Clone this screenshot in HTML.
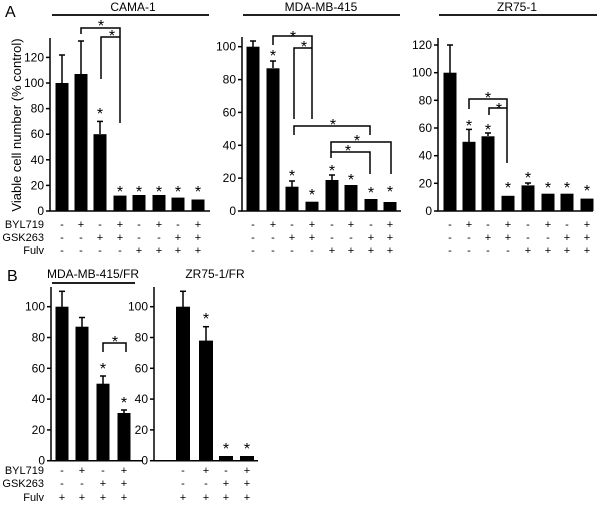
<!DOCTYPE html>
<html><head><meta charset="utf-8"><style>
body{margin:0;background:#fff}
svg{display:block;font-family:"Liberation Sans",Arial,sans-serif}
.t{font-size:12px;text-anchor:end}
.s{font-size:11px;text-anchor:middle}
.st{font-size:16px;text-anchor:middle;transform:translateY(3px)}
</style></head><body>
<svg width="600" height="507" viewBox="0 0 600 507" xmlns="http://www.w3.org/2000/svg">
<g fill="#000" stroke="none">
<text x="5" y="17" font-size="16">A</text>
<text x="7" y="281" font-size="16">B</text>
<text x="133" y="11" font-size="12" text-anchor="middle">CAMA-1</text>
<text x="321" y="11" font-size="12" text-anchor="middle">MDA-MB-415</text>
<text x="517" y="11" font-size="12" text-anchor="middle">ZR75-1</text>
<text x="93" y="278" font-size="12" text-anchor="middle">MDA-MB-415/FR</text>
<text x="215" y="278" font-size="12" text-anchor="middle">ZR75-1/FR</text>
<text transform="translate(21,125) rotate(-90)" font-size="13" text-anchor="middle">Viable cell number (% control)</text>
</g>
<g stroke="#000" stroke-width="1.8" fill="none">
<line x1="52" y1="15" x2="209" y2="15"/>
<line x1="243" y1="15" x2="400" y2="15"/>
<line x1="439" y1="15" x2="597" y2="15"/>
<line x1="52" y1="283" x2="135" y2="283"/>
</g>

<!-- CAMA-1 -->
<g stroke="#000" stroke-width="1.5" fill="none">
<polyline points="50,38 50,211 210,211"/>
<line x1="46" y1="211" x2="50" y2="211"/><line x1="46" y1="185.4" x2="50" y2="185.4"/><line x1="46" y1="159.8" x2="50" y2="159.8"/><line x1="46" y1="134.2" x2="50" y2="134.2"/><line x1="46" y1="108.6" x2="50" y2="108.6"/><line x1="46" y1="83" x2="50" y2="83"/><line x1="46" y1="57.4" x2="50" y2="57.4"/>
<line x1="62" y1="83" x2="62" y2="55"/><line x1="59" y1="55" x2="65" y2="55"/>
<line x1="81" y1="74" x2="81" y2="41"/><line x1="78" y1="41" x2="84" y2="41"/>
<line x1="100" y1="134" x2="100" y2="121.4"/><line x1="97" y1="121.4" x2="103" y2="121.4"/>
<polyline points="81,34 81,28 120,28 120,123"/>
<polyline points="101,79 101,37 120,37"/>
</g>
<g fill="#000">
<rect x="55.5" y="83" width="13" height="128"/><rect x="74.5" y="74" width="13" height="137"/><rect x="93.5" y="134.2" width="13" height="76.8"/><rect x="113.5" y="195.6" width="13" height="15.4"/><rect x="132.5" y="195" width="13" height="16"/><rect x="152.5" y="195" width="13" height="16"/><rect x="171.5" y="197.6" width="13" height="13.4"/><rect x="191.5" y="199.5" width="13" height="11.5"/>
<text class="t" x="44" y="215">0</text><text class="t" x="44" y="189.4">20</text><text class="t" x="44" y="163.8">40</text><text class="t" x="44" y="138.2">60</text><text class="t" x="44" y="112.6">80</text><text class="t" x="44" y="87">100</text><text class="t" x="44" y="61.4">120</text>
<text class="st" x="100" y="116">*</text><text class="st" x="120" y="194">*</text><text class="st" x="139" y="194">*</text><text class="st" x="159" y="194">*</text><text class="st" x="178" y="194">*</text><text class="st" x="198" y="194">*</text>
<text class="st" x="101" y="28">*</text><text class="st" x="112" y="38">*</text>
</g>

<!-- MDA-MB-415 -->
<g stroke="#000" stroke-width="1.5" fill="none">
<polyline points="242,37 242,211 401,211"/>
<line x1="238" y1="211" x2="242" y2="211"/><line x1="238" y1="178.1" x2="242" y2="178.1"/><line x1="238" y1="145.3" x2="242" y2="145.3"/><line x1="238" y1="112.4" x2="242" y2="112.4"/><line x1="238" y1="79.6" x2="242" y2="79.6"/><line x1="238" y1="46.7" x2="242" y2="46.7"/>
<line x1="253" y1="47" x2="253" y2="41"/><line x1="250" y1="41" x2="256" y2="41"/>
<line x1="273" y1="68" x2="273" y2="61"/><line x1="270" y1="61" x2="276" y2="61"/>
<line x1="292" y1="187" x2="292" y2="181"/><line x1="289" y1="181" x2="295" y2="181"/>
<line x1="332" y1="180" x2="332" y2="175"/><line x1="329" y1="175" x2="335" y2="175"/>
<polyline points="273,45 273,36 312,36 312,119"/>
<polyline points="294,119 294,48 312,48"/>
<polyline points="294,135 294,126 370,126 370,135"/>
<polyline points="331,158 331,142 391,142 391,174"/>
<polyline points="331,152 370,152 370,174"/>
</g>
<g fill="#000">
<rect x="246.5" y="46.7" width="13" height="164.3"/><rect x="266.5" y="68.3" width="13" height="142.7"/><rect x="285.5" y="186.7" width="13" height="24.3"/><rect x="305.5" y="201.7" width="13" height="9.3"/><rect x="325.5" y="180" width="13" height="31"/><rect x="344.5" y="185" width="13" height="26"/><rect x="364.5" y="199" width="13" height="12"/><rect x="383.5" y="202" width="13" height="9"/>
<text class="t" x="236" y="215">0</text><text class="t" x="236" y="182.1">20</text><text class="t" x="236" y="149.3">40</text><text class="t" x="236" y="116.4">60</text><text class="t" x="236" y="83.6">80</text><text class="t" x="236" y="50.7">100</text>
<text class="st" x="273" y="58">*</text><text class="st" x="292" y="178">*</text><text class="st" x="312" y="197">*</text><text class="st" x="332" y="173">*</text><text class="st" x="351" y="182">*</text><text class="st" x="371" y="195">*</text><text class="st" x="390" y="194">*</text>
<text class="st" x="293" y="39">*</text><text class="st" x="304" y="49">*</text><text class="st" x="333" y="127">*</text><text class="st" x="357" y="143">*</text><text class="st" x="348" y="153">*</text>
</g>

<!-- ZR75-1 -->
<g stroke="#000" stroke-width="1.5" fill="none">
<polyline points="438,38 438,211 593,211"/>
<line x1="434" y1="211" x2="438" y2="211"/><line x1="434" y1="183.3" x2="438" y2="183.3"/><line x1="434" y1="155.7" x2="438" y2="155.7"/><line x1="434" y1="128" x2="438" y2="128"/><line x1="434" y1="100.3" x2="438" y2="100.3"/><line x1="434" y1="72.7" x2="438" y2="72.7"/><line x1="434" y1="45" x2="438" y2="45"/>
<line x1="450" y1="73" x2="450" y2="45"/><line x1="447" y1="45" x2="453" y2="45"/>
<line x1="469" y1="142" x2="469" y2="129.4"/><line x1="466" y1="129.4" x2="472" y2="129.4"/>
<line x1="488" y1="136" x2="488" y2="133"/><line x1="485" y1="133" x2="491" y2="133"/>
<line x1="528" y1="185" x2="528" y2="183"/><line x1="525" y1="183" x2="531" y2="183"/>
<polyline points="469,109 469,99 507,99 507,163"/>
<polyline points="489,115 489,108 507,108"/>
</g>
<g fill="#000">
<rect x="443.5" y="72.7" width="13" height="138.3"/><rect x="462.5" y="141.8" width="13" height="69.2"/><rect x="481.5" y="136.3" width="13" height="74.7"/><rect x="501.5" y="195.8" width="13" height="15.2"/><rect x="521.5" y="185.4" width="13" height="25.6"/><rect x="541.5" y="193.7" width="13" height="17.3"/><rect x="560.5" y="193.7" width="13" height="17.3"/><rect x="580.5" y="198.6" width="13" height="12.4"/>
<text class="t" x="432" y="215">0</text><text class="t" x="432" y="187.3">20</text><text class="t" x="432" y="159.7">40</text><text class="t" x="432" y="132">60</text><text class="t" x="432" y="104.3">80</text><text class="t" x="432" y="76.7">100</text><text class="t" x="432" y="49">120</text>
<text class="st" x="469" y="128">*</text><text class="st" x="488" y="132">*</text><text class="st" x="508" y="190">*</text><text class="st" x="528" y="180">*</text><text class="st" x="548" y="190">*</text><text class="st" x="567" y="190">*</text><text class="st" x="587" y="193">*</text>
<text class="st" x="488" y="100">*</text><text class="st" x="499" y="111">*</text>
</g>

<!-- row labels -->
<g fill="#000" font-size="11">
<text x="44" y="228" text-anchor="end">BYL719</text><text x="44" y="241" text-anchor="end">GSK263</text><text x="44" y="254" text-anchor="end">Fulv</text>
<text x="44" y="474" text-anchor="end">BYL719</text><text x="44" y="487" text-anchor="end">GSK263</text><text x="44" y="501" text-anchor="end">Fulv</text>
</g>
<g fill="#000">
<text class="s" x="62" y="228">-</text><text class="s" x="81" y="228">+</text><text class="s" x="100" y="228">-</text><text class="s" x="120" y="228">+</text><text class="s" x="139" y="228">-</text><text class="s" x="159" y="228">+</text><text class="s" x="178" y="228">-</text><text class="s" x="198" y="228">+</text>
<text class="s" x="62" y="241">-</text><text class="s" x="81" y="241">-</text><text class="s" x="100" y="241">+</text><text class="s" x="120" y="241">+</text><text class="s" x="139" y="241">-</text><text class="s" x="159" y="241">-</text><text class="s" x="178" y="241">+</text><text class="s" x="198" y="241">+</text>
<text class="s" x="62" y="254">-</text><text class="s" x="81" y="254">-</text><text class="s" x="100" y="254">-</text><text class="s" x="120" y="254">-</text><text class="s" x="139" y="254">+</text><text class="s" x="159" y="254">+</text><text class="s" x="178" y="254">+</text><text class="s" x="198" y="254">+</text>

<text class="s" x="253" y="228">-</text><text class="s" x="273" y="228">+</text><text class="s" x="292" y="228">-</text><text class="s" x="312" y="228">+</text><text class="s" x="332" y="228">-</text><text class="s" x="351" y="228">+</text><text class="s" x="371" y="228">-</text><text class="s" x="390" y="228">+</text>
<text class="s" x="253" y="241">-</text><text class="s" x="273" y="241">-</text><text class="s" x="292" y="241">+</text><text class="s" x="312" y="241">+</text><text class="s" x="332" y="241">-</text><text class="s" x="351" y="241">-</text><text class="s" x="371" y="241">+</text><text class="s" x="390" y="241">+</text>
<text class="s" x="253" y="254">-</text><text class="s" x="273" y="254">-</text><text class="s" x="292" y="254">-</text><text class="s" x="312" y="254">-</text><text class="s" x="332" y="254">+</text><text class="s" x="351" y="254">+</text><text class="s" x="371" y="254">+</text><text class="s" x="390" y="254">+</text>

<text class="s" x="450" y="228">-</text><text class="s" x="469" y="228">+</text><text class="s" x="488" y="228">-</text><text class="s" x="508" y="228">+</text><text class="s" x="528" y="228">-</text><text class="s" x="548" y="228">+</text><text class="s" x="567" y="228">-</text><text class="s" x="587" y="228">+</text>
<text class="s" x="450" y="241">-</text><text class="s" x="469" y="241">-</text><text class="s" x="488" y="241">+</text><text class="s" x="508" y="241">+</text><text class="s" x="528" y="241">-</text><text class="s" x="548" y="241">-</text><text class="s" x="567" y="241">+</text><text class="s" x="587" y="241">+</text>
<text class="s" x="450" y="254">-</text><text class="s" x="469" y="254">-</text><text class="s" x="488" y="254">-</text><text class="s" x="508" y="254">-</text><text class="s" x="528" y="254">+</text><text class="s" x="548" y="254">+</text><text class="s" x="567" y="254">+</text><text class="s" x="587" y="254">+</text>
</g>

<!-- B: MDA-MB-415/FR -->
<g stroke="#000" stroke-width="1.5" fill="none">
<polyline points="51,287 51,460.7 143,460.7"/>
<line x1="47" y1="460.7" x2="51" y2="460.7"/><line x1="47" y1="429.9" x2="51" y2="429.9"/><line x1="47" y1="399.1" x2="51" y2="399.1"/><line x1="47" y1="368.3" x2="51" y2="368.3"/><line x1="47" y1="337.5" x2="51" y2="337.5"/><line x1="47" y1="306.7" x2="51" y2="306.7"/>
<line x1="62" y1="307" x2="62" y2="291.3"/><line x1="59" y1="291.3" x2="65" y2="291.3"/>
<line x1="82" y1="327" x2="82" y2="317.5"/><line x1="79" y1="317.5" x2="85" y2="317.5"/>
<line x1="103" y1="384" x2="103" y2="376"/><line x1="100" y1="376" x2="106" y2="376"/>
<line x1="124" y1="413" x2="124" y2="410"/><line x1="121" y1="410" x2="127" y2="410"/>
<polyline points="103,352 103,343 126,343 126,352"/>
</g>
<g fill="#000">
<rect x="55.5" y="306.7" width="13" height="154"/><rect x="75.5" y="326.7" width="13" height="134"/><rect x="96.5" y="383.7" width="13" height="77"/><rect x="117.5" y="413" width="13" height="47.7"/>
<text class="t" x="45" y="464.7">0</text><text class="t" x="45" y="433.9">20</text><text class="t" x="45" y="403.1">40</text><text class="t" x="45" y="372.3">60</text><text class="t" x="45" y="341.5">80</text><text class="t" x="45" y="310.7">100</text>
<text class="st" x="103" y="371">*</text><text class="st" x="124" y="405">*</text><text class="st" x="115" y="344">*</text>
<text class="s" x="62" y="474">-</text><text class="s" x="82" y="474">+</text><text class="s" x="103" y="474">-</text><text class="s" x="124" y="474">+</text>
<text class="s" x="62" y="487">-</text><text class="s" x="82" y="487">-</text><text class="s" x="103" y="487">+</text><text class="s" x="124" y="487">+</text>
<text class="s" x="62" y="501">+</text><text class="s" x="82" y="501">+</text><text class="s" x="103" y="501">+</text><text class="s" x="124" y="501">+</text>
</g>

<!-- B: ZR75-1/FR -->
<g stroke="#000" stroke-width="1.5" fill="none">
<polyline points="154,287 154,460.7 258,460.7"/>
<line x1="150" y1="460.7" x2="154" y2="460.7"/><line x1="150" y1="429.9" x2="154" y2="429.9"/><line x1="150" y1="399.1" x2="154" y2="399.1"/><line x1="150" y1="368.3" x2="154" y2="368.3"/><line x1="150" y1="337.5" x2="154" y2="337.5"/><line x1="150" y1="306.7" x2="154" y2="306.7"/>
<line x1="183" y1="307" x2="183" y2="291.3"/><line x1="180" y1="291.3" x2="186" y2="291.3"/>
<line x1="206" y1="341" x2="206" y2="326.7"/><line x1="203" y1="326.7" x2="209" y2="326.7"/>
</g>
<g fill="#000">
<rect x="176" y="306.7" width="14" height="154"/><rect x="199" y="340.6" width="14" height="120.1"/><rect x="219" y="456" width="14" height="4.7"/><rect x="240" y="456" width="14" height="4.7"/>
<text class="t" x="148" y="464.7">0</text><text class="t" x="148" y="433.9">20</text><text class="t" x="148" y="403.1">40</text><text class="t" x="148" y="372.3">60</text><text class="t" x="148" y="341.5">80</text><text class="t" x="148" y="310.7">100</text>
<text class="st" x="206" y="321">*</text><text class="st" x="226" y="451">*</text><text class="st" x="247" y="451">*</text>
<text class="s" x="183" y="474">-</text><text class="s" x="206" y="474">+</text><text class="s" x="226" y="474">-</text><text class="s" x="247" y="474">+</text>
<text class="s" x="183" y="487">-</text><text class="s" x="206" y="487">-</text><text class="s" x="226" y="487">+</text><text class="s" x="247" y="487">+</text>
<text class="s" x="183" y="501">+</text><text class="s" x="206" y="501">+</text><text class="s" x="226" y="501">+</text><text class="s" x="247" y="501">+</text>
</g>
</svg>
</body></html>
